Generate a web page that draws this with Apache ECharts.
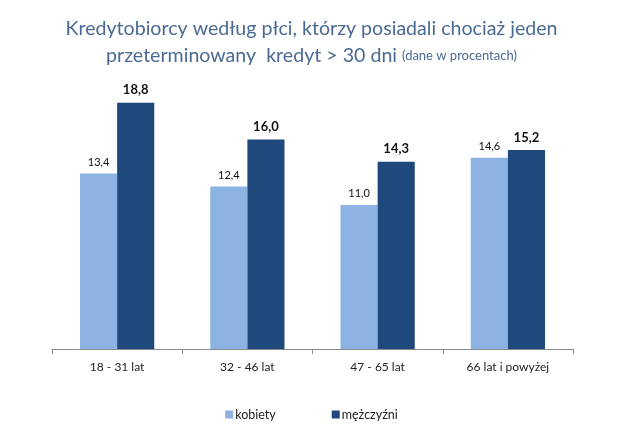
<!DOCTYPE html>
<html><head><meta charset="utf-8">
<script src="https://cdn.jsdelivr.net/npm/echarts@6/dist/echarts.min.js"></script>
<style>html,body{margin:0;padding:0;background:#fff}#c{width:623px;height:435px}</style>
</head><body><div id="c"></div>
<script>
const categories = ['18 - 31 lat', '32 - 46 lat', '47 - 65 lat', '66 lat i powyżej'];
const kobiety = [13.4, 12.4, 11.0, 14.6];
const mezczyzni = [18.8, 16.0, 14.3, 15.2];
const seriesNames = ['kobiety', 'mężczyźni'];

const fmt = p => p.value.toFixed(1).replace('.', ',');
const chart = echarts.init(document.getElementById('c'), null, {renderer: 'canvas'});
chart.setOption({
  animation: false,
  backgroundColor: '#fff',
  title: {
    text: 'Kredytobiorcy według płci, którzy posiadali chociaż jeden\n{a|przeterminowany  kredyt > 30 dni }{b|(dane w procentach)}',
    left: 'center', top: 10,
    textStyle: {
      fontFamily: 'Lato', fontSize: 19.6, fontWeight: 'normal', color: '#4B6A93', lineHeight: 27,
      rich: {
        a: {fontFamily: 'Lato', fontSize: 19.6, color: '#4B6A93', lineHeight: 27},
        b: {fontFamily: 'Lato', fontSize: 13, color: '#4B6A93', lineHeight: 27}
      }
    }
  },
  legend: {
    data: seriesNames, bottom: 9, left: 'center', itemWidth: 8, itemHeight: 8, itemGap: 56,
    icon: 'rect',
    textStyle: {fontFamily: 'Lato', fontSize: 12.5, color: '#222', padding: [0, 0, 0, -3]}
  },
  grid: {left: 52, right: 50, top: 87, bottom: 86, containLabel: false},
  xAxis: {
    type: 'category', data: categories,
    axisLine: {lineStyle: {color: '#8a8a8a', width: 1}},
    axisTick: {show: true, length: 5, lineStyle: {color: '#8a8a8a'}},
    axisLabel: {fontFamily: 'Lato', fontSize: 12, color: '#222', margin: 12}
  },
  yAxis: {type: 'value', min: 0, max: 20, show: false, splitLine: {show: false}},
  series: [
    {name: seriesNames[0], type: 'bar', data: kobiety, barGap: '0%', barCategoryGap: '43%',
     itemStyle: {color: '#8DB3E2'},
     label: {show: true, position: 'top', distance: 6, formatter: fmt, fontFamily: 'Lato', fontSize: 11, color: '#111'}},
    {name: seriesNames[1], type: 'bar', data: mezczyzni, barGap: '0%', barCategoryGap: '43%',
     itemStyle: {color: '#1F497D'},
     label: {show: true, position: 'top', distance: 6, formatter: fmt, fontFamily: 'Lato', fontSize: 13, fontWeight: 'bold', color: '#111'}}
  ]
});
</script></body></html>
